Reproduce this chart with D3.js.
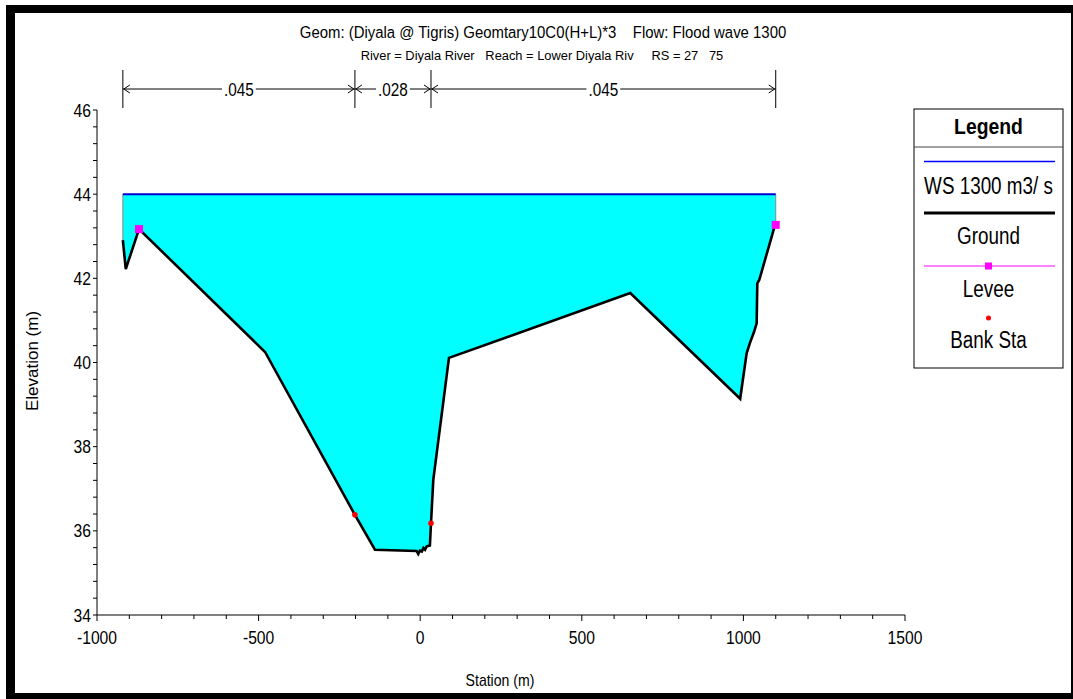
<!DOCTYPE html>
<html>
<head>
<meta charset="utf-8">
<script src="https://cdn.jsdelivr.net/npm/d3@7"></script>
<style>
  html, body { margin: 0; padding: 0; background: #fff; }
  svg { display: block; }
  text { font-family: "Liberation Sans", Arial, sans-serif; fill: #000; white-space: pre; }
</style>
</head>
<body>
<svg id="chart" width="1073" height="699"></svg>
<script>
// Cross-section survey: station (m) and ground elevation (m)
const groundStation = [-920, -911, -870, -480, -202, -140, -11, -6, -1, 5, 10, 15, 20, 30, 33.4, 40.5, 89, 650, 990, 1010, 1020, 1033, 1041, 1043, 1049, 1095, 1100];
const groundElev    = [42.91, 42.22, 43.17, 40.25, 36.38, 35.55, 35.52, 35.45, 35.53, 35.51, 35.59, 35.55, 35.63, 35.65, 36.18, 37.21, 40.11, 41.65, 39.14, 40.22, 40.46, 40.73, 40.93, 41.88, 41.96, 43.19, 43.27];

// Water surface for the 1300 m3/s flood wave
const wsElev = 44.0;
const wsStart = -920, wsEnd = 1100;

// Levees and bank stations
const leveeStation = [-870, 1100];
const leveeElev = [43.17, 43.27];
const bankStation = [-202, 33.4];
const bankElev = [36.38, 36.18];

// Manning's n breakpoints and values
const nBreaks = [-920, -202, 33.4, 1100];
const nValues = [".045", ".028", ".045"];

// Axis ticks
const xTicks = [-1000, -500, 0, 500, 1000, 1500];
const yTicks = [34, 36, 38, 40, 42, 44, 46];

const titleLine1 = "Geom: (Diyala @ Tigris) Geomtary10C0(H+L)*3    Flow: Flood wave 1300";
const titleLine2 = "River = Diyala River   Reach = Lower Diyala Riv     RS = 27   75";

const legendLabels = ["WS 1300 m3/ s", "Ground", "Levee", "Bank Sta"];

const svg = d3.select("#chart");

// condensed text: glyphs drawn at full height, squeezed horizontally
// (squeeze > 2 is read as a target width in pixels)
function label(g, tx, ty, str, size, anchor, squeeze, bold) {
  const holder = g.append("g");
  const t = holder.append("text").attr("x", 0).attr("y", 0)
    .attr("text-anchor", anchor).attr("font-size", size).text(str);
  if (bold) t.attr("font-weight", "bold");
  const natural = t.node().getComputedTextLength();
  const sx = squeeze > 2 ? squeeze / natural : squeeze;
  holder.attr("transform", `translate(${tx},${ty}) scale(${sx},1)`);
  return natural * sx;
}

// outer frame with shadowed border
svg.append("rect").attr("x", 6).attr("y", 5).attr("width", 1067).attr("height", 694).attr("fill", "#000");
svg.append("rect").attr("x", 15).attr("y", 13).attr("width", 1056).attr("height", 680).attr("fill", "#fff");

const x = d3.scaleLinear().domain([-1000, 1500]).range([97, 905]);
const y = d3.scaleLinear().domain([34, 46]).range([615, 110]);

const ground = groundStation.map((s, i) => ({ s, z: groundElev[i] }));

// water fill between ground and water surface
const area = d3.area()
  .x(d => x(d.s))
  .y0(d => y(Math.min(d.z, wsElev)))
  .y1(() => y(wsElev));
svg.append("path").datum(ground).attr("d", area).attr("fill", "#00ffff");

// end walls of the wetted area
svg.append("line").attr("x1", x(wsStart)).attr("x2", x(wsStart))
  .attr("y1", y(wsElev)).attr("y2", y(groundElev[0]))
  .attr("stroke", "#888").attr("stroke-width", 1);
svg.append("line").attr("x1", x(wsEnd)).attr("x2", x(wsEnd))
  .attr("y1", y(wsElev)).attr("y2", y(groundElev[groundElev.length - 1]))
  .attr("stroke", "#888").attr("stroke-width", 1);

// water surface line
svg.append("line").attr("x1", x(wsStart)).attr("x2", x(wsEnd))
  .attr("y1", y(wsElev)).attr("y2", y(wsElev))
  .attr("stroke", "#0000d0").attr("stroke-width", 2);

// ground line
const line = d3.line().x(d => x(d.s)).y(d => y(d.z));
svg.append("path").datum(ground).attr("d", line)
  .attr("fill", "none").attr("stroke", "#000").attr("stroke-width", 2.6)
  .attr("stroke-linejoin", "miter");

// levees
svg.selectAll("rect.levee").data(leveeStation).enter().append("rect")
  .attr("class", "levee")
  .attr("x", (d) => x(d) - 4).attr("y", (d, i) => y(leveeElev[i]) - 4)
  .attr("width", 8).attr("height", 8).attr("fill", "#ff00ff");

// bank stations
svg.selectAll("circle.bank").data(bankStation).enter().append("circle")
  .attr("class", "bank")
  .attr("cx", d => x(d)).attr("cy", (d, i) => y(bankElev[i]))
  .attr("r", 2.8).attr("fill", "#ff0000");

// axes
const yAxisG = svg.append("g");
yAxisG.append("line").attr("x1", 97).attr("x2", 97).attr("y1", y(46)).attr("y2", y(34)).attr("stroke", "#000");
d3.range(34, 46.001, 0.4).forEach(v => {
  yAxisG.append("line").attr("x1", 93).attr("x2", 97).attr("y1", y(v)).attr("y2", y(v)).attr("stroke", "#000");
});
yTicks.forEach(v => {
  label(yAxisG, 91, y(v) + 6.5, String(v), 18, "end", 0.87);
});

const xAxisG = svg.append("g");
xAxisG.append("line").attr("x1", x(-1000)).attr("x2", x(1500)).attr("y1", 615).attr("y2", 615).attr("stroke", "#000");
d3.range(-1000, 1500.1, 100).forEach(v => {
  const major = xTicks.includes(v);
  xAxisG.append("line").attr("x1", x(v)).attr("x2", x(v)).attr("y1", 615).attr("y2", major ? 621 : 619).attr("stroke", "#000");
});
xTicks.forEach(v => {
  label(xAxisG, x(v), 644, String(v), 18, "middle", 0.87);
});

label(svg, 500, 686, "Station (m)", 16, "middle", 0.88);
const yTitle = svg.append("g").attr("transform", "translate(38,361) rotate(-90)");
label(yTitle, 0, 0, "Elevation (m)", 17, "middle", 1.0);

// titles
label(svg, 543, 38, titleLine1, 16.5, "middle", 487);
label(svg, 542, 60, titleLine2, 13.5, "middle", 363);

// Manning's n bar
const nY = 89;
const nG = svg.append("g");
nBreaks.forEach(b => {
  nG.append("line").attr("x1", x(b)).attr("x2", x(b)).attr("y1", 70).attr("y2", 108).attr("stroke", "#000");
});
nValues.forEach((lab, i) => {
  const x0 = x(nBreaks[i]), x1 = x(nBreaks[i + 1]);
  const cx = (x0 + x1) / 2;
  const w = label(nG, cx, nY + 6.5, lab, 18, "middle", 0.85);
  nG.append("line").attr("x1", x0).attr("x2", cx - w / 2 - 2).attr("y1", nY).attr("y2", nY).attr("stroke", "#000");
  nG.append("line").attr("x1", cx + w / 2 + 2).attr("x2", x1).attr("y1", nY).attr("y2", nY).attr("stroke", "#000");
  // arrow heads
  nG.append("path").attr("d", `M${x0 + 7},${nY - 4} L${x0 + 1},${nY} L${x0 + 7},${nY + 4}`)
    .attr("fill", "none").attr("stroke", "#000");
  nG.append("path").attr("d", `M${x1 - 7},${nY - 4} L${x1 - 1},${nY} L${x1 - 7},${nY + 4}`)
    .attr("fill", "none").attr("stroke", "#000");
});

// legend
const lg = svg.append("g");
const lx0 = 914, lx1 = 1063, lcx = (lx0 + lx1) / 2;
lg.append("rect").attr("x", lx0).attr("y", 109).attr("width", lx1 - lx0).attr("height", 259)
  .attr("fill", "#fff").attr("stroke", "#000");
lg.append("line").attr("x1", lx0).attr("x2", lx1).attr("y1", 147).attr("y2", 147).attr("stroke", "#444");
label(lg, lcx, 134, "Legend", 22, "middle", 0.88, true);

lg.append("line").attr("x1", 924).attr("x2", 1055).attr("y1", 161.5).attr("y2", 161.5).attr("stroke", "#0000ff").attr("stroke-width", 1.3);
lg.append("line").attr("x1", 924).attr("x2", 1055).attr("y1", 213).attr("y2", 213).attr("stroke", "#000").attr("stroke-width", 3);
lg.append("line").attr("x1", 924).attr("x2", 1055).attr("y1", 266).attr("y2", 266).attr("stroke", "#ff00ff");
lg.append("rect").attr("x", lcx - 3.5).attr("y", 262.5).attr("width", 7).attr("height", 7).attr("fill", "#ff00ff");
lg.append("circle").attr("cx", lcx).attr("cy", 318).attr("r", 2.5).attr("fill", "#ff0000");

const legendY = [193.5, 244, 297, 347.5];
legendLabels.forEach((t, i) => {
  label(lg, lcx, legendY[i], t, 23, "middle", 0.82);
});
</script>
</body>
</html>
